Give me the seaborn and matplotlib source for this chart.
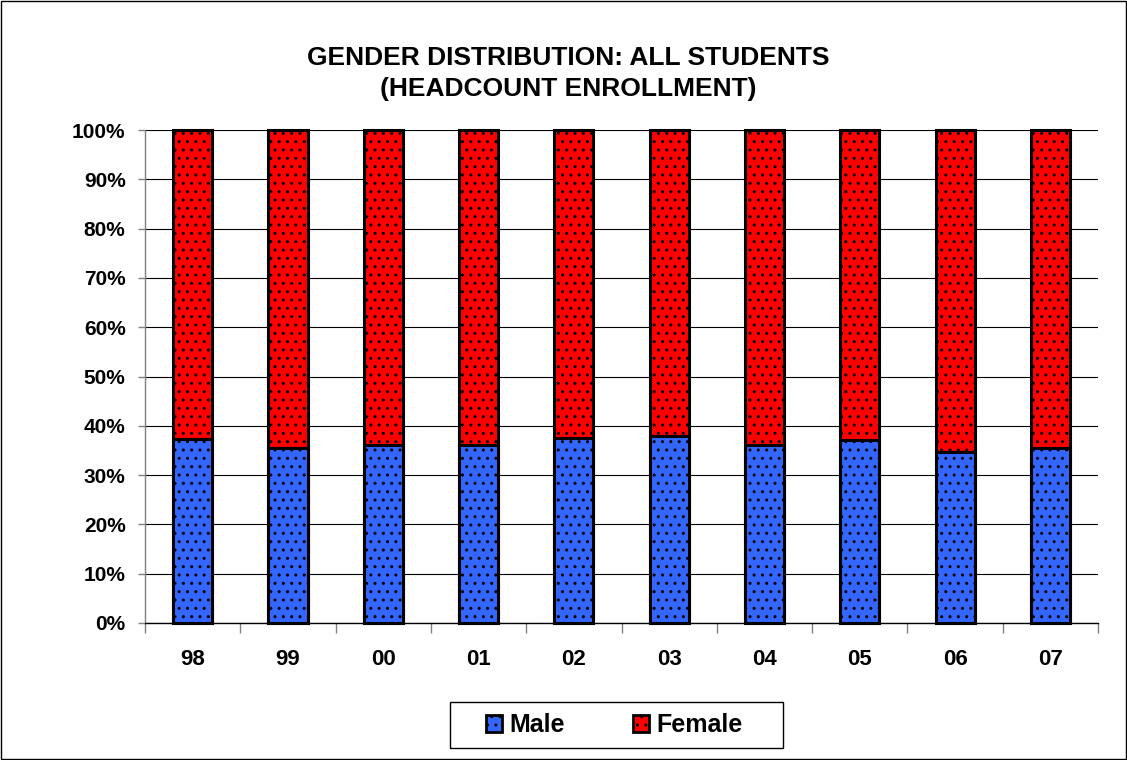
import numpy as np
import pandas as pd
import matplotlib
matplotlib.use("Agg")
import matplotlib.pyplot as plt
import seaborn as sns
from matplotlib.patches import Patch, Rectangle
from matplotlib.ticker import FuncFormatter, FixedLocator


# DATA

years = ["98", "99", "00", "01", "02", "03", "04", "05", "06", "07"]
male = [37.3, 35.4, 36.1, 36.2, 37.5, 37.9, 36.2, 37.2, 34.6, 35.4]
female = [62.7, 64.6, 63.9, 63.8, 62.5, 62.1, 63.8, 62.8, 65.4, 64.6]

title = "GENDER DISTRIBUTION: ALL STUDENTS\n(HEADCOUNT ENROLLMENT)"
BLUE = "#3366FF"
RED = "#FF0000"


def main():
    sns.set_theme(style="white")
    plt.rcParams["font.family"] = ["Liberation Sans", "DejaVu Sans"]
    plt.rcParams["font.weight"] = "bold"
    plt.rcParams["hatch.linewidth"] = 1.0
    plt.rcParams["text.color"] = "black"
    plt.rcParams["xtick.labelcolor"] = "black"
    plt.rcParams["ytick.labelcolor"] = "black"

    df = pd.DataFrame({"year": years, "male": male, "female": female})
    df["total"] = df["male"] + df["female"]

    fig = plt.figure(figsize=(11.27, 7.6), dpi=100)
    ax = fig.add_axes([0.1287, 0.1803, 0.8456, 0.6486])

    # stacked: draw total (female on top) first, then male over it
    sns.barplot(data=df, x="year", y="total", color=RED, saturation=1,
                width=0.41, edgecolor="black", linewidth=2.2, ax=ax)
    sns.barplot(data=df, x="year", y="male", color=BLUE, saturation=1,
                width=0.41, edgecolor="black", linewidth=2.2, ax=ax)
    for p in ax.patches:
        p.set_hatch("..")
        p.set_clip_on(False)

    ax.set_xlim(-0.5, len(years) - 0.5)
    ax.set_ylim(0, 100)
    ax.set_yticks(np.arange(0, 101, 10))
    ax.yaxis.set_major_formatter(FuncFormatter(lambda v, _: f"{int(v)}%"))
    ax.grid(axis="y", color="black", linewidth=0.8)
    ax.grid(axis="x", visible=False)
    ax.set_axisbelow(True)

    ax.set_xlabel("")
    ax.set_ylabel("")
    for s in ["top", "right"]:
        ax.spines[s].set_visible(False)
    ax.spines["left"].set_color("#808080")
    ax.spines["left"].set_linewidth(1.0)
    ax.spines["bottom"].set_color("black")
    ax.spines["bottom"].set_linewidth(1.0)

    ax.tick_params(axis="y", which="major", left=True, length=5, width=1,
                   color="#808080", labelcolor="black", pad=9, labelsize=15)
    ax.tick_params(axis="x", which="major", bottom=False, length=0, pad=19,
                   labelcolor="black", labelsize=16)
    ax.xaxis.set_minor_locator(FixedLocator(np.arange(-0.5, len(years), 1)))
    ax.tick_params(axis="x", which="minor", bottom=True, length=7, width=1,
                   color="#808080")
    for lab in ax.get_xticklabels() + ax.get_yticklabels():
        lab.set_fontweight("bold")

    fig.text(0.504, 0.903, title, ha="center", va="center", fontsize=19,
             fontweight="bold", color="black", linespacing=1.38)

    handles = [Patch(facecolor=BLUE, edgecolor="black", hatch="..", linewidth=2.0),
               Patch(facecolor=RED, edgecolor="black", hatch="..", linewidth=2.0)]
    leg = fig.legend(handles, ["Male", "Female"], loc="center",
                     bbox_to_anchor=(0.545, 0.046), ncol=2, fontsize=18,
                     frameon=False, handlelength=0.65, handleheight=0.65,
                     handletextpad=0.3, columnspacing=2.7, borderpad=0.3)
    for t in leg.get_texts():
        t.set_fontweight("bold")
        t.set_color("black")

    # legend frame and outer chart border
    fig.patches.append(Rectangle((450 / 1127, 1 - 748 / 760), 333 / 1127, 46 / 760,
                                 fill=False, edgecolor="black", linewidth=1.0,
                                 transform=fig.transFigure))
    fig.patches.append(Rectangle((0.001, 0.001), 0.998, 0.998, fill=False,
                                 edgecolor="black", linewidth=1.0,
                                 transform=fig.transFigure))

    fig.savefig("out.png", dpi=100)
    plt.close(fig)


if __name__ == "__main__":
    main()
